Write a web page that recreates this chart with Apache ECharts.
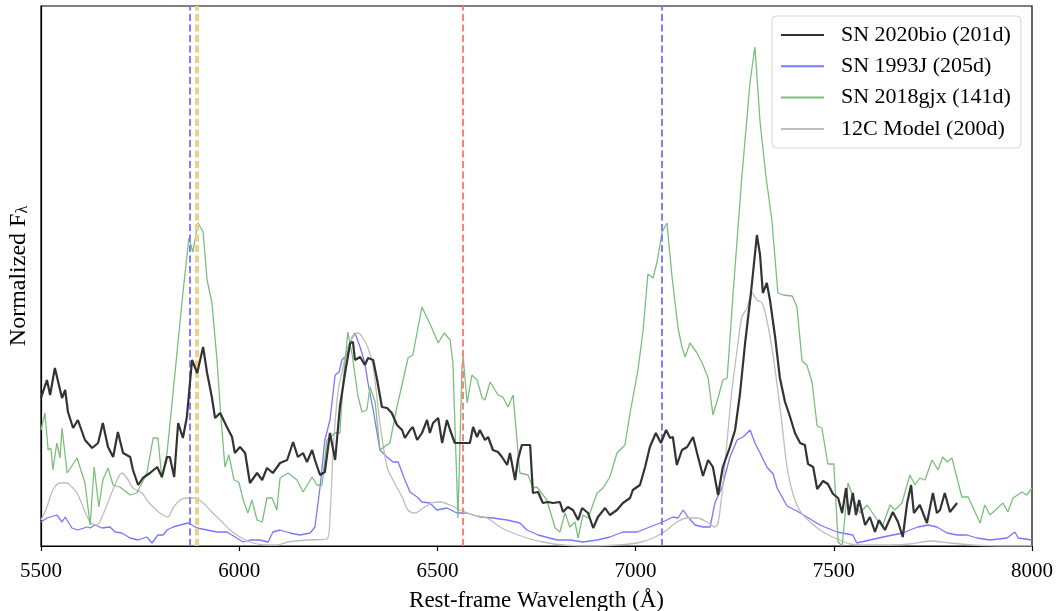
<!DOCTYPE html>
<html>
<head>
<meta charset="utf-8">
<script src="https://cdn.jsdelivr.net/npm/echarts@6/dist/echarts.min.js"></script>
<style>
html,body{margin:0;padding:0;background:#fff;}
#chart{width:1057px;height:611px;}
</style>
</head>
<body>
<div id="chart"></div>
<script>
// ---------- data (wavelength in Angstrom, normalized flux in arbitrary units) ----------
const xTicks = [5500, 6000, 6500, 7000, 7500, 8000];

const bioWave = [5500,5515,5523,5535,5553,5561,5568,5581,5593,5611,5629,5644,5656,5669,5682,5694,5707,5725,5732,5745,5757,5775,5793,5805,5818,5825,5836,5846,5858,5868,5881,5894,5909,5919,5931,5939,5952,5969,5982,5989,6002,6015,6027,6045,6058,6070,6085,6103,6121,6136,6148,6161,6171,6184,6191,6204,6216,6229,6242,6254,6267,6280,6287,6292,6305,6317,6325,6338,6348,6360,6373,6385,6398,6411,6418,6431,6438,6449,6461,6474,6481,6489,6502,6512,6524,6532,6544,6582,6590,6600,6607,6620,6628,6640,6653,6663,6676,6683,6696,6703,6713,6734,6741,6754,6766,6779,6792,6809,6817,6829,6842,6855,6865,6880,6893,6905,6923,6935,6953,6968,6986,6993,7011,7024,7036,7051,7064,7077,7087,7094,7104,7117,7130,7145,7155,7170,7183,7195,7208,7220,7238,7251,7263,7276,7291,7306,7314,7321,7331,7339,7352,7364,7377,7389,7402,7415,7427,7435,7448,7458,7473,7485,7498,7511,7521,7531,7538,7548,7556,7564,7579,7591,7604,7614,7629,7649,7662,7674,7685,7695,7702,7717,7735,7750,7760,7768,7780,7793,7811];
const bioFlux = [1.48,1.66,1.51,1.78,1.48,1.56,1.34,1.18,1.26,1.06,0.98,1.03,1.23,0.99,0.89,1.14,0.93,0.89,0.76,0.61,0.68,0.73,0.79,0.69,0.89,0.89,0.69,1.23,1.08,1.29,1.86,1.73,1.99,1.73,1.49,1.28,1.33,1.19,1.09,0.93,0.99,0.93,0.63,0.73,0.66,0.78,0.73,0.83,0.86,1.04,0.89,0.93,0.84,0.96,0.86,0.71,0.74,1.13,0.86,1.39,1.73,2.03,2.04,1.86,1.89,1.81,1.88,1.86,1.66,1.39,1.38,1.33,1.21,1.16,1.08,1.16,1.19,1.06,1.13,1.26,1.13,1.23,1.28,1.03,1.26,1.16,1.03,1.03,1.19,1.09,1.16,1.06,1.09,0.96,0.94,0.89,0.81,0.93,0.66,0.86,1.01,1.01,0.53,0.54,0.43,0.44,0.43,0.44,0.34,0.39,0.36,0.26,0.38,0.33,0.18,0.29,0.38,0.31,0.36,0.43,0.48,0.56,0.61,0.79,0.99,1.13,1.03,1.16,1.08,1.09,0.81,0.96,0.99,1.09,0.93,0.70,0.86,0.79,0.51,0.79,0.99,1.16,1.51,2.02,2.53,3.11,2.91,2.53,2.63,2.46,2.09,1.68,1.44,1.30,1.13,1.03,1.01,0.82,0.79,0.57,0.65,0.62,0.52,0.48,0.33,0.58,0.31,0.53,0.31,0.46,0.21,0.29,0.14,0.26,0.16,0.34,0.24,0.09,0.43,0.61,0.33,0.41,0.23,0.53,0.33,0.36,0.53,0.34,0.43];

const j93Wave = [5500,5515,5540,5553,5561,5578,5593,5616,5624,5636,5654,5674,5687,5704,5725,5745,5767,5780,5795,5808,5818,5833,5851,5871,5894,5919,5944,5969,5994,6010,6027,6052,6073,6085,6103,6128,6153,6179,6191,6204,6216,6229,6242,6252,6259,6272,6285,6292,6305,6317,6325,6338,6355,6373,6388,6401,6418,6431,6449,6461,6481,6499,6524,6549,6575,6607,6640,6676,6708,6726,6754,6802,6835,6867,6903,6935,6968,7004,7036,7062,7079,7094,7107,7120,7132,7150,7170,7188,7200,7218,7238,7256,7271,7289,7301,7314,7331,7347,7357,7382,7407,7432,7465,7508,7548,7558,7591,7624,7649,7675,7692,7712,7738,7760,7786,7811,7836,7861,7894,7937,7957,7965,8000];
const j93Flux = [0.24,0.28,0.31,0.24,0.29,0.18,0.16,0.19,0.18,0.21,0.18,0.19,0.14,0.13,0.08,0.06,0.09,0.03,0.11,0.11,0.16,0.19,0.21,0.23,0.18,0.16,0.14,0.14,0.08,0.04,0.06,0.06,0.04,0.14,0.16,0.13,0.11,0.13,0.19,0.59,1.06,1.26,1.71,1.74,1.86,1.91,2.09,2.13,1.99,1.83,1.63,1.36,0.96,0.89,0.84,0.84,0.66,0.54,0.49,0.44,0.43,0.36,0.38,0.33,0.33,0.29,0.28,0.26,0.23,0.16,0.11,0.06,0.06,0.04,0.06,0.09,0.14,0.14,0.19,0.23,0.26,0.29,0.28,0.36,0.29,0.21,0.19,0.19,0.43,0.59,0.89,1.06,1.09,1.16,1.03,0.93,0.79,0.72,0.58,0.40,0.35,0.29,0.21,0.14,0.11,0.03,0.06,0.09,0.11,0.13,0.16,0.19,0.21,0.19,0.13,0.11,0.11,0.08,0.06,0.08,0.14,0.08,0.06];

const gjxWave = [5500,5510,5518,5525,5530,5540,5548,5553,5566,5591,5611,5624,5634,5646,5656,5669,5682,5699,5725,5742,5767,5783,5795,5805,5818,5843,5858,5873,5883,5896,5909,5919,5931,5944,5952,5964,5974,5987,5999,6010,6022,6032,6045,6058,6070,6083,6095,6103,6123,6146,6161,6184,6196,6209,6221,6242,6254,6262,6274,6285,6300,6310,6322,6330,6343,6355,6380,6398,6426,6438,6461,6486,6502,6517,6532,6539,6552,6562,6565,6575,6587,6600,6613,6620,6633,6653,6665,6678,6691,6708,6729,6741,6751,6776,6797,6809,6822,6834,6847,6855,6867,6880,6903,6918,6935,6953,6973,6986,7006,7019,7031,7044,7054,7067,7079,7092,7107,7117,7125,7137,7155,7170,7183,7195,7208,7220,7231,7246,7268,7289,7301,7314,7329,7344,7359,7372,7395,7407,7420,7432,7445,7458,7470,7485,7500,7511,7521,7536,7553,7566,7584,7622,7642,7654,7672,7692,7705,7717,7730,7748,7763,7775,7786,7798,7823,7839,7869,7881,7894,7927,7939,7952,7975,7987,8000];
const gjxFlux = [1.16,1.33,0.96,0.98,0.76,1.03,0.88,1.18,0.73,0.88,0.63,0.21,0.79,0.39,0.66,0.78,0.61,0.59,0.51,0.53,0.73,1.08,1.08,0.68,0.93,1.93,2.53,3.08,2.94,3.23,3.14,2.66,2.44,1.86,1.39,0.79,0.91,0.66,0.64,0.46,0.33,0.46,0.26,0.24,0.48,0.48,0.36,0.68,0.73,0.66,0.54,0.69,0.61,0.61,1.06,1.13,1.13,1.63,2.14,1.91,1.49,1.34,1.36,1.59,1.44,0.96,1.03,1.39,1.88,1.91,2.39,2.18,2.03,2.13,2.06,1.84,0.28,1.79,1.89,1.43,1.71,1.66,1.48,1.46,1.64,1.51,1.49,1.39,1.51,0.73,0.71,0.58,0.59,0.46,0.18,0.14,0.33,0.19,0.24,0.08,0.31,0.28,0.53,0.58,0.69,0.93,1.01,1.33,1.76,2.16,2.72,2.68,2.84,3.14,3.23,2.69,2.18,1.99,1.89,2.03,1.93,1.81,1.68,1.31,1.48,1.66,1.68,2.53,3.69,4.65,4.99,4.24,3.69,3.25,2.53,2.51,2.50,2.39,1.85,1.81,1.64,1.20,1.18,0.82,0.82,0.04,0.00,0.63,0.44,0.33,0.41,0.19,0.41,0.36,0.43,0.71,0.61,0.68,0.66,0.86,0.76,0.89,0.84,0.88,0.49,0.49,0.23,0.41,0.31,0.43,0.34,0.48,0.54,0.51,0.58];

const modWave = [5500,5515,5530,5548,5566,5578,5591,5606,5624,5641,5656,5674,5692,5704,5717,5732,5755,5767,5783,5800,5820,5833,5851,5868,5888,5909,5931,5957,5977,6002,6035,6070,6095,6123,6171,6221,6229,6237,6249,6262,6274,6287,6300,6312,6325,6338,6355,6373,6388,6411,6426,6443,6464,6486,6507,6532,6557,6590,6625,6658,6691,6726,6766,6817,6885,6953,7004,7044,7079,7104,7130,7155,7180,7200,7208,7218,7231,7243,7256,7268,7281,7294,7306,7319,7331,7344,7357,7369,7382,7397,7415,7440,7473,7508,7541,7566,7642,7692,7743,7793,7851,7937,8000];
const modFlux = [0.26,0.39,0.56,0.63,0.63,0.59,0.53,0.39,0.24,0.21,0.31,0.49,0.66,0.73,0.68,0.58,0.53,0.46,0.39,0.33,0.29,0.38,0.46,0.48,0.48,0.43,0.34,0.24,0.16,0.09,0.03,0.01,0.01,0.04,0.06,0.07,0.29,0.96,1.53,1.79,1.99,2.09,2.13,2.08,1.98,1.79,1.23,0.79,0.66,0.49,0.36,0.33,0.38,0.43,0.44,0.41,0.36,0.31,0.28,0.19,0.13,0.08,0.04,0.01,0.00,0.01,0.03,0.08,0.16,0.24,0.28,0.28,0.24,0.19,0.23,0.53,1.06,1.56,1.96,2.29,2.38,2.53,2.46,2.43,2.26,1.98,1.61,1.23,0.79,0.52,0.35,0.24,0.14,0.07,0.02,0.01,0.01,0.02,0.05,0.03,0.01,0.00,0.00];

// reference lines: He I 5876, Na I D 5893, H-alpha 6563, He I 7065
const lineWaves = [5876, 5893, 6563, 7065];
const seriesNames = ['SN 2020bio (201d)', 'SN 1993J (205d)', 'SN 2018gjx (141d)', '12C Model (200d)'];

// ---------- build ----------
function zip(a, b) { return a.map((v, i) => [v, b[i]]); }
const SERIF = '"Liberation Serif", "DejaVu Serif", serif';

const vStyles = [
  {color: '#7f7fff', width: 2},
  {color: '#ecd08e', width: 4},
  {color: '#ff8080', width: 2},
  {color: '#7f7fff', width: 2}
];

const chart = echarts.init(document.getElementById('chart'), null, {renderer: 'canvas'});
chart.setOption({
  animation: false,
  backgroundColor: '#ffffff',
  grid: {left: 41, right: 25, top: 6, bottom: 65, show: true, borderColor: '#000', borderWidth: 1.2,
    backgroundColor: 'transparent', containLabel: false, outerBoundsMode: 'none'},
  xAxis: {
    type: 'value', min: xTicks[0], max: xTicks[xTicks.length - 1], interval: 500,
    name: 'Rest-frame Wavelength (Å)', nameLocation: 'middle', nameGap: 43,
    nameTextStyle: {fontFamily: SERIF, fontSize: 23, color: '#000'},
    axisLine: {show: true, lineStyle: {color: '#000', width: 1.2}},
    axisTick: {show: true, inside: false, length: 5, lineStyle: {color: '#000', width: 1.2}},
    axisLabel: {fontFamily: SERIF, fontSize: 21, color: '#000', margin: 15, formatter: v => String(v)},
    splitLine: {show: false}
  },
  yAxis: {
    type: 'value', min: 0, max: 5.4,
    name: 'Normalized F{sub|λ}', nameLocation: 'middle', nameGap: 10,
    nameTextStyle: {fontFamily: SERIF, fontSize: 24, color: '#000',
      rich: {sub: {fontFamily: SERIF, fontSize: 16, color: '#000', verticalAlign: 'bottom', lineHeight: 14}}},
    axisLine: {show: true, lineStyle: {color: '#000', width: 1.2}},
    axisTick: {show: false}, axisLabel: {show: false}, splitLine: {show: false}
  },
  legend: {
    orient: 'vertical', left: 772, top: 16,
    padding: [8, 10, 8, 8],
    itemWidth: 43, itemHeight: 14, itemGap: 9.3,
    backgroundColor: 'rgba(255,255,255,0.85)', borderColor: '#d4d4d4', borderWidth: 1, borderRadius: 4,
    itemStyle: {color: 'rgba(0,0,0,0)', borderColor: 'rgba(0,0,0,0)', borderWidth: 0},
    textStyle: {fontFamily: SERIF, fontSize: 22, color: '#000', lineHeight: 22, padding: [0, 0, 0, 12]},
    data: seriesNames
  },
  series: [
    {name: seriesNames[1], type: 'line', data: zip(j93Wave, j93Flux), showSymbol: false, symbol: 'none', z: 2,
      lineStyle: {color: '#7777ff', width: 1.3}, itemStyle: {color: '#7777ff'}},
    {name: seriesNames[2], type: 'line', data: zip(gjxWave, gjxFlux), showSymbol: false, symbol: 'none', z: 3,
      lineStyle: {color: '#7cbf7c', width: 1.3}, itemStyle: {color: '#7cbf7c'}},
    {name: seriesNames[3], type: 'line', data: zip(modWave, modFlux), showSymbol: false, symbol: 'none', z: 2, smooth: 0.3,
      lineStyle: {color: '#bdbdbd', width: 1.3}, itemStyle: {color: '#bdbdbd'}},
    {name: 'lines', type: 'line', data: [], z: 4, silent: true,
      markLine: {symbol: 'none', silent: true, label: {show: false}, animation: false,
        data: lineWaves.map((w, i) => ({xAxis: w, lineStyle: {color: vStyles[i].color, width: vStyles[i].width, type: [7, 3.5]}}))}},
    {name: seriesNames[0], type: 'line', data: zip(bioWave, bioFlux), showSymbol: false, symbol: 'none', z: 5,
      lineStyle: {color: '#333333', width: 2.2}, itemStyle: {color: '#333333'}}
  ]
});
</script>
</body>
</html>
